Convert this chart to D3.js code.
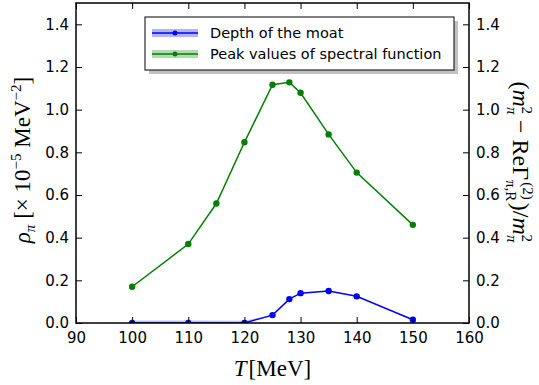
<!DOCTYPE html>
<html>
<head>
<meta charset="utf-8">
<script src="https://cdn.jsdelivr.net/npm/d3@7"></script>
<style>
  body { margin: 0; background: #fff; }
  svg { display: block; }
  .tick text { font-family: "DejaVu Sans", sans-serif; font-size: 15px; fill: #000; }
  .math { font-family: "Liberation Serif", "DejaVu Serif", serif; fill: #000; }
</style>
</head>
<body>
<div id="chart"></div>
<script>
// temperatures (MeV)
var tempsGreen = [100, 110, 115, 120, 125, 128, 130, 135, 140, 150];
var peakValues = [0.17, 0.37, 0.56, 0.847, 1.117, 1.128, 1.079, 0.884, 0.705, 0.46];

var tempsBlue = [100, 110, 120, 125, 128, 130, 135, 140, 150];
var moatDepth = [0.0, 0.0, 0.0, 0.037, 0.112, 0.14, 0.15, 0.125, 0.015];
var moatBandHi = [0.012, 0.012, 0.011, 0.038, 0.113, 0.141, 0.151, 0.126, 0.016];
var moatBandLo = [0.0, 0.0, 0.0, 0.036, 0.111, 0.139, 0.149, 0.124, 0.014];

var xTicks = [90, 100, 110, 120, 130, 140, 150, 160];
var yTicks = [0.0, 0.2, 0.4, 0.6, 0.8, 1.0, 1.2, 1.4];
var legendLabels = ["Depth of the moat", "Peak values of spectral function"];

var width = 539, height = 385;
var margin = {left: 76, right: 70, top: 3, bottom: 62};
var x0 = margin.left, x1 = width - margin.right;
var y0 = height - margin.bottom, y1 = margin.top;

var svg = d3.select("#chart").append("svg")
    .attr("width", width)
    .attr("height", height);

var x = d3.scaleLinear().domain([90, 160]).range([x0, x1]);
var y = d3.scaleLinear().domain([0, 1.5]).range([y0, y1]);

svg.append("clipPath").attr("id", "clip")
  .append("rect")
    .attr("x", x0).attr("y", y1)
    .attr("width", x1 - x0).attr("height", y0 - y1);

var plot = svg.append("g").attr("clip-path", "url(#clip)");

// error band for the moat depth
var bandData = tempsBlue.map(function(t, i) { return {t: t, lo: moatBandLo[i], hi: moatBandHi[i]}; });
plot.append("path")
    .datum(bandData)
    .attr("fill", "rgba(0,0,255,0.25)")
    .attr("d", d3.area()
        .x(function(d) { return x(d.t); })
        .y0(function(d) { return y(d.lo); })
        .y1(function(d) { return y(d.hi); }));

function drawSeries(ts, vs, color) {
    var pts = ts.map(function(t, i) { return [t, vs[i]]; });
    plot.append("path")
        .datum(pts)
        .attr("fill", "none")
        .attr("stroke", color)
        .attr("stroke-width", 1.5)
        .attr("d", d3.line()
            .x(function(d) { return x(d[0]); })
            .y(function(d) { return y(d[1]); }));
    plot.selectAll(null)
        .data(pts)
        .enter().append("circle")
        .attr("cx", function(d) { return x(d[0]); })
        .attr("cy", function(d) { return y(d[1]); })
        .attr("r", 3.2)
        .attr("fill", color);
}

drawSeries(tempsGreen, peakValues, "#008000");
drawSeries(tempsBlue, moatDepth, "#0000ff");

// axes, ticks inside
var tickLen = 6;
svg.append("g")
    .attr("class", "x axis")
    .attr("transform", "translate(0," + y0 + ")")
    .call(d3.axisBottom(x).tickValues(xTicks).tickSizeInner(-tickLen).tickSizeOuter(0).tickPadding(9).tickFormat(d3.format("d")))
    .call(function(g) { g.select(".domain").remove(); });

svg.append("g")
    .attr("transform", "translate(0," + y1 + ")")
    .call(d3.axisTop(x).tickValues(xTicks).tickSizeInner(-tickLen).tickSizeOuter(0).tickFormat(""))
    .call(function(g) { g.select(".domain").remove(); });

svg.append("g")
    .attr("class", "y axis")
    .attr("transform", "translate(" + x0 + ",0)")
    .call(d3.axisLeft(y).tickValues(yTicks).tickSizeInner(-tickLen).tickSizeOuter(0).tickPadding(7).tickFormat(d3.format(".1f")))
    .call(function(g) { g.select(".domain").remove(); });

svg.append("g")
    .attr("transform", "translate(" + x1 + ",0)")
    .call(d3.axisRight(y).tickValues(yTicks).tickSizeInner(-tickLen).tickSizeOuter(0).tickPadding(7).tickFormat(d3.format(".1f")))
    .call(function(g) { g.select(".domain").remove(); });

svg.selectAll(".tick line").attr("stroke", "#000").attr("stroke-width", 1);

svg.append("rect")
    .attr("x", x0).attr("y", y1)
    .attr("width", x1 - x0).attr("height", y0 - y1)
    .attr("fill", "none")
    .attr("stroke", "#000")
    .attr("stroke-width", 1.5);

// x label
var xl = svg.append("text").attr("class", "math")
    .attr("x", (x0 + x1) / 2).attr("y", 376)
    .attr("text-anchor", "middle")
    .attr("font-size", 23);
xl.append("tspan").attr("font-style", "italic").text("T");
xl.append("tspan").attr("dx", 2).text("[MeV]");

// left y label
var yl = svg.append("text").attr("class", "math")
    .attr("transform", "translate(30," + 160 + ") rotate(-90)")
    .attr("text-anchor", "middle")
    .attr("font-size", 23);
yl.append("tspan").attr("font-style", "italic").text("ρ");
yl.append("tspan").attr("font-style", "italic").attr("font-size", 15).attr("dy", 5).text("π");
yl.append("tspan").attr("dy", -5).text(" [× 10");
yl.append("tspan").attr("font-size", 15).attr("dy", -9).text("−5");
yl.append("tspan").attr("dy", 9).text(" MeV");
yl.append("tspan").attr("font-size", 15).attr("dy", -9).text("−2");
yl.append("tspan").attr("dy", 9).text("]");

// right y label
var yr = svg.append("text").attr("class", "math")
    .attr("transform", "translate(513," + 162 + ") rotate(90)")
    .attr("text-anchor", "middle")
    .attr("font-size", 24);
yr.append("tspan").text("(");
yr.append("tspan").attr("font-style", "italic").text("m");
yr.append("tspan").attr("font-style", "italic").attr("font-size", 15).attr("dy", 6).text("π");
yr.append("tspan").attr("font-size", 15).attr("dx", -8).attr("dy", -15).text("2");
yr.append("tspan").attr("dy", 9).text(" − ReΓ");
yr.append("tspan").attr("font-size", 15).attr("dy", 7).text("π,R");
yr.append("tspan").attr("font-size", 15).attr("dx", -19).attr("dy", -17).text("(2)");
yr.append("tspan").attr("dy", 10).attr("dx", 3).text(")/");
yr.append("tspan").attr("font-style", "italic").text("m");
yr.append("tspan").attr("font-style", "italic").attr("font-size", 15).attr("dy", 6).text("π");
yr.append("tspan").attr("font-size", 15).attr("dx", -8).attr("dy", -15).text("2");

// legend
var lg = svg.append("g").attr("transform", "translate(145,17)");
var lw = 309, lh = 53;
lg.append("rect").attr("x", 4).attr("y", 4).attr("width", lw).attr("height", lh)
    .attr("fill", "#999").attr("opacity", 0.6);
lg.append("rect").attr("width", lw).attr("height", lh)
    .attr("fill", "#fff").attr("stroke", "#000").attr("stroke-width", 1);

var legendColors = [["#0000ff", "rgba(0,0,255,0.3)"], ["#008000", "rgba(0,128,0,0.3)"]];
legendLabels.forEach(function(lab, i) {
    var cy = 16 + i * 21;
    lg.append("rect").attr("x", 7).attr("y", cy - 4).attr("width", 46).attr("height", 8)
        .attr("fill", legendColors[i][1]);
    lg.append("line").attr("x1", 7).attr("x2", 53).attr("y1", cy).attr("y2", cy)
        .attr("stroke", legendColors[i][0]).attr("stroke-width", 1.5);
    lg.append("circle").attr("cx", 30).attr("cy", cy).attr("r", 2.5).attr("fill", legendColors[i][0]);
    lg.append("text").attr("x", 65).attr("y", cy + 5)
        .attr("font-family", "DejaVu Sans, sans-serif").attr("font-size", 14.5)
        .text(lab);
});
</script>
</body>
</html>
